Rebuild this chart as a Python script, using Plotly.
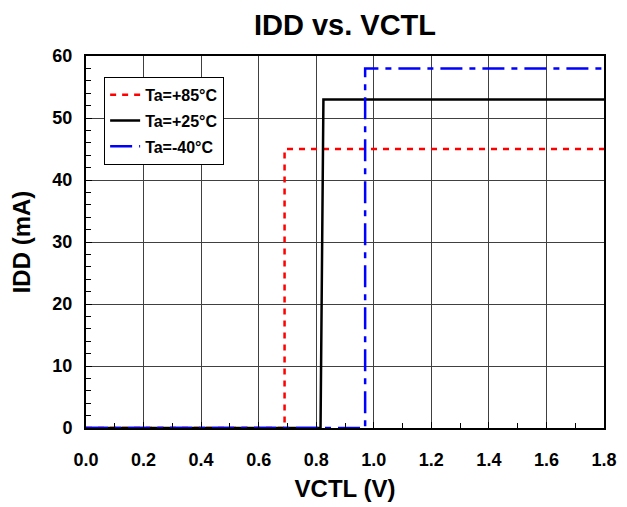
import plotly.graph_objects as go

# dados (degraus de corrente vs tensão de controle)
vctl_85 = [0.0, 0.69, 0.69, 1.8]
idd_85 = [0, 0, 45, 45]

vctl_25 = [0.0, 0.815, 0.825, 1.8]
idd_25 = [0, 0, 53, 53]

vctl_m40 = [0.0, 0.97, 0.97, 1.8]
idd_m40 = [0, 0, 58, 58]

nomes = ['Ta=+85°C', 'Ta=+25°C', 'Ta=-40°C']
cores = ['#FF0000', '#000000', '#0000FF']
estilos = ['6px,6px', 'solid', '22px,7px,6px,7px']

fonte = 'Liberation Sans, Arial, sans-serif'

fig = go.Figure()

series = [(vctl_85, idd_85), (vctl_25, idd_25), (vctl_m40, idd_m40)]
for i, (x, y) in enumerate(series):
    fig.add_trace(go.Scatter(
        x=x, y=y, mode='lines', name=nomes[i], legendgroup=str(i),
        line=dict(color=cores[i], width=2.5, dash=estilos[i])
    ))

eixo = dict(
    showline=True, linecolor='black', linewidth=2, mirror=True,
    showgrid=True, gridcolor='#404040', gridwidth=1,
    ticks='inside', ticklen=6, tickcolor='black',
    tickfont=dict(family=fonte, size=18, color='black', weight='bold'),
    zeroline=False, automargin=False,
)

# a página tem margem de 8px, por isso a figura é um pouco menor
fig.update_layout(
    width=619, height=499,
    margin=dict(l=78, r=23, t=48, b=79),
    plot_bgcolor='white', paper_bgcolor='white',
    title=dict(text='<b>IDD vs. VCTL</b>', x=0.5, xref='paper', xanchor='center',
               y=0.966, yref='container', yanchor='middle', automargin=False,
               font=dict(family=fonte, size=29, color='black')),
    xaxis=dict(eixo, range=[0, 1.8], dtick=0.2, tickformat='.1f', ticklabelstandoff=14,
               minor=dict(dtick=0.1, ticks='inside', ticklen=5, tickcolor='black', showgrid=False),
               title=dict(text='<b>VCTL (V)</b>', font=dict(family=fonte, size=24, color='black'), standoff=12)),
    yaxis=dict(eixo, range=[0, 60], dtick=10, ticklabelstandoff=8,
               minor=dict(dtick=2, ticks='inside', ticklen=5, tickcolor='black', showgrid=False),
               title=dict(text='<b>IDD (mA)</b>', font=dict(family=fonte, size=24, color='black'), standoff=16)),
    legend=dict(x=0.035, y=0.944, xanchor='left', yanchor='top',
                bgcolor='white', bordercolor='black', borderwidth=1,
                font=dict(family=fonte, size=16, color='black', weight='bold'),
                tracegroupgap=2, traceorder='grouped'),
    showlegend=True,
)

fig.write_html('out.html')
